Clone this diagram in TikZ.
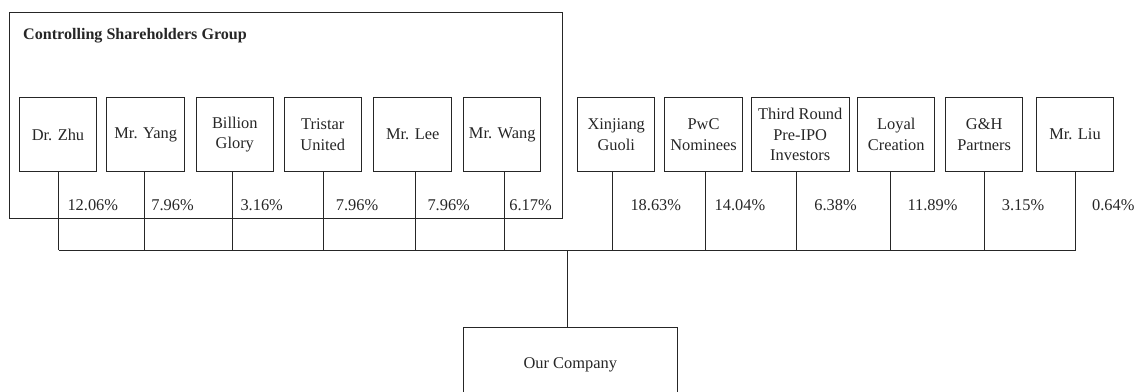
\documentclass[tikz,border=0pt]{standalone}
\usepackage{fontspec}
\setmainfont{Liberation Serif}
\begin{document}
\begin{tikzpicture}[x=1pt,y=-1pt,
  line width=1pt,
  every node/.style={font=\fontsize{16.4}{20.5}\selectfont, text=black!85},
  holder/.style={draw=black!85, minimum width=77.5pt, minimum height=74.4pt, align=center, inner sep=1pt},
  groupbox/.style={draw=black!85, minimum width=553.4pt, minimum height=206pt, inner sep=0pt},
  pct/.style={inner sep=0pt},
  link/.style={draw=black!85}
]
\useasboundingbox (0,0) rectangle (1139,391);
\clip (0,0) rectangle (1139,391);

\node[groupbox] (group) at (286,115.3) {};
\node[anchor=west, font=\bfseries\fontsize{16.1}{18}\selectfont, inner sep=0pt] (title) at (22.7,36) {Controlling Shareholders Group};

\node[holder] (zhu) at (58,134.5) {Dr. Zhu};
\node[holder] (yang) at (145.7,134.5) {Mr. Yang};
\node[holder] (billion) at (234.8,134.5) {Billion\\Glory};
\node[holder] (tristar) at (322.8,134.5) {Tristar\\United};
\node[holder] (lee) at (412.7,134.5) {Mr. Lee};
\node[holder] (wang) at (502.2,134.5) {Mr. Wang};
\node[holder] (xinjiang) at (616.2,134.5) {Xinjiang\\Guoli};
\node[holder] (pwc) at (703.5,134.5) {PwC\\Nominees};
\node[holder, minimum width=97.7pt] (third) at (800.2,134.5) {Third Round\\Pre-IPO\\Investors};
\node[holder] (loyal) at (896.2,134.5) {Loyal\\Creation};
\node[holder] (gh) at (984.2,134.5) {G\&H\\Partners};
\node[holder] (liu) at (1075,134.5) {Mr. Liu};

\node[draw=black!85, minimum width=214pt, minimum height=75pt] (company) at (570.3,365) {Our Company};

\coordinate (bus) at (567.7,250);

\foreach \n/\s in {zhu/0.7, yang/-1.4, billion/-2.5, tristar/0.5, lee/3, wang/1.8, xinjiang/-3.5, pwc/2.2, third/-4.2, loyal/-5.9, gh/0.1, liu/0.7}{
  \draw[link] ([xshift=\s pt]\n.south) -- ([xshift=\s pt]\n.south |- bus);
}
\draw[link] ([xshift=0.7pt]zhu.south |- bus) -- ([xshift=0.7pt]liu.south |- bus);
\draw[link] (company.north -| bus) -- (bus);

\node[pct] (p1) at (92.8,205) {12.06\%};
\node[pct] (p2) at (172.5,205) {7.96\%};
\node[pct] (p3) at (261.7,205) {3.16\%};
\node[pct] (p4) at (357,205) {7.96\%};
\node[pct] (p5) at (448.7,205) {7.96\%};
\node[pct] (p6) at (530.5,205) {6.17\%};
\node[pct] (p7) at (655.8,205) {18.63\%};
\node[pct] (p8) at (740,205) {14.04\%};
\node[pct] (p9) at (835.5,205) {6.38\%};
\node[pct] (p10) at (932.5,205) {11.89\%};
\node[pct] (p11) at (1023,205) {3.15\%};
\node[pct] (p12) at (1113.3,205) {0.64\%};
\end{tikzpicture}
\end{document}
